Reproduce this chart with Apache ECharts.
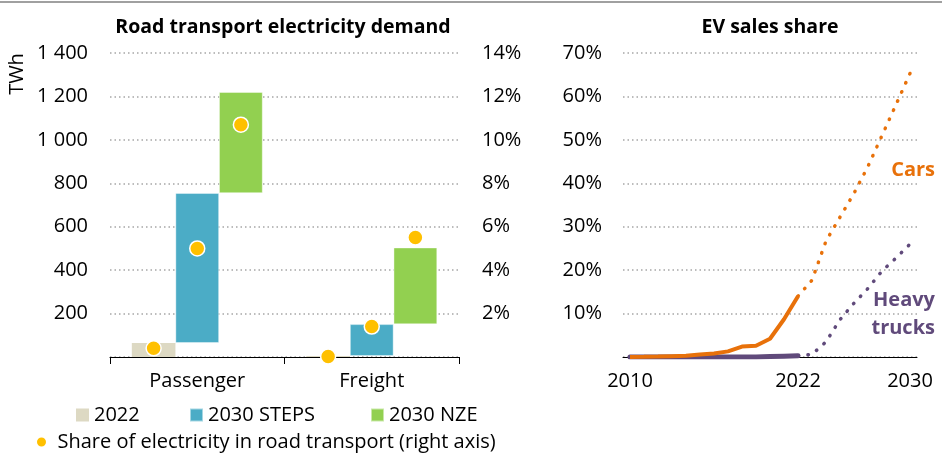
<!DOCTYPE html>
<html>
<head>
<meta charset="utf-8">
<script src="https://cdn.jsdelivr.net/npm/echarts@6/dist/echarts.min.js"></script>
<style>
  html, body { margin: 0; padding: 0; background: #fff; }
  #chart { width: 942px; height: 455px; }
</style>
</head>
<body>
<div id="chart"></div>
<script>
// Road transport electricity demand (TWh) by segment and scenario
const segments = ['Passenger', 'Freight'];
const demand2022 = [65, 5];
const demandSteps = [755, 151];
const demandNze = [1220, 504];

// Share of electricity in road transport (%), right axis
const share2022 = [0.4, 0.02];
const shareSteps = [5.0, 1.4];
const shareNze = [10.7, 5.5];

// EV sales share (%)
const years = ['2010', '2011', '2012', '2013', '2014', '2015', '2016', '2017', '2018', '2019', '2020',
               '2021', '2022', '2023', '2024', '2025', '2026', '2027', '2028', '2029', '2030'];
const yearLabels = ['2010', '2022', '2030'];
const carsHistoric = [0.01, 0.05, 0.1, 0.2, 0.3, 0.6, 0.8, 1.3, 2.4, 2.6, 4.2, 8.7, 14];
const carsProjected = [14, 17.7, 26.7, 32.2, 37.7, 43.9, 51, 58.1, 65.3];
const trucksHistoric = [0, 0, 0, 0, 0, 0, 0, 0, 0, 0, 0.1, 0.2, 0.3];
const trucksProjected = [0.3, 0.6, 3.5, 8.6, 12.4, 15.8, 19.8, 22.8, 26];

const FONT = '"Open Sans"';
const FS = 20;
const INK = '#000000';
const GRID_GREY = '#A6A6A6';
const COLORS = {
  y2022: '#DDD9C3', steps: '#4BACC6', nze: '#92D050', share: '#FFC000',
  cars: '#E8710A', trucks: '#604A7B'
};
const SHARE_NAME = 'Share of electricity in road transport (right axis)';

// Left panel geometry
const leftGrid = { left: 110, right: 483, top: 53, bottom: 98 };
const leftWidth = 942 - leftGrid.left - leftGrid.right;
const barCategoryGap = 0.25;
const slotWidth = (leftWidth / segments.length) * (1 - barCategoryGap) / 3;

// Full historic + projected series over the year axis
const histLen = carsHistoric.length;
const pad = (arr, before, total) => {
  const out = [];
  for (let i = 0; i < before; i++) out.push('-');
  arr.forEach(v => out.push(v));
  while (out.length < total) out.push('-');
  return out;
};
const carsSolid = pad(carsHistoric, 0, years.length);
const carsDotted = pad(carsProjected, histLen - 1, years.length);
const trucksSolid = pad(trucksHistoric, 0, years.length);
const trucksDotted = pad(trucksProjected, histLen - 1, years.length);

const stepsDelta = demandSteps.map((v, i) => v - demand2022[i]);
const nzeDelta = demandNze.map((v, i) => v - demandSteps[i]);

const spaced = v => String(v).replace(/\B(?=(\d{3})+(?!\d))/g, ' ');
const labelStyle = { color: INK, fontFamily: FONT, fontSize: FS };
const dottedGrid = { show: true, lineStyle: { color: GRID_GREY, width: 1.5, type: [1.5, 3] } };
const legendText = { color: INK, fontFamily: FONT, fontSize: FS, lineHeight: 20 };

const barCommon = {
  type: 'bar', xAxisIndex: 0, yAxisIndex: 0,
  barGap: '0%', barCategoryGap: (barCategoryGap * 100) + '%'
};
const baseBar = Object.assign({}, barCommon, {
  itemStyle: { color: 'transparent' }, silent: true, emphasis: { disabled: true }
});
const shareScatter = (data, offset) => ({
  name: SHARE_NAME, type: 'scatter', xAxisIndex: 0, yAxisIndex: 1,
  data: data, symbolSize: 15, symbolOffset: [offset, 0], z: 5,
  itemStyle: { color: COLORS.share, borderColor: '#fff', borderWidth: 1.5, opacity: 1 }
});
const lineCommon = { type: 'line', xAxisIndex: 1, yAxisIndex: 2, symbol: 'none', connectNulls: false };
const barLegend = (name, left) => ({
  data: [name], left: left, top: 405, padding: 0, icon: 'rect', itemWidth: 13, itemHeight: 13,
  textStyle: legendText, selectedMode: false
});

const chart = echarts.init(document.getElementById('chart'), null, { renderer: 'canvas' });
chart.setOption({
  animation: false,
  backgroundColor: '#fff',
  textStyle: { fontFamily: FONT },
  grid: [
    leftGrid,
    { left: 623, right: 25, top: 53, bottom: 98 }
  ],
  xAxis: [
    {
      type: 'category', gridIndex: 0, data: segments,
      axisLine: { lineStyle: { color: INK, width: 1 } },
      axisTick: { show: true, length: 7, lineStyle: { color: INK } },
      axisLabel: Object.assign({ margin: 14 }, labelStyle)
    },
    {
      type: 'category', gridIndex: 1, data: years, boundaryGap: true,
      axisLine: { lineStyle: { color: INK, width: 1 } },
      axisTick: { show: false },
      axisLabel: Object.assign({
        margin: 14,
        interval: (idx, val) => yearLabels.indexOf(val) >= 0
      }, labelStyle)
    }
  ],
  yAxis: [
    {
      type: 'value', gridIndex: 0, min: 0, max: 1400, interval: 200,
      axisLine: { show: false }, axisTick: { show: false },
      axisLabel: Object.assign({ margin: 22, formatter: v => v === 0 ? '' : spaced(v) }, labelStyle),
      splitLine: dottedGrid
    },
    {
      type: 'value', gridIndex: 0, min: 0, max: 14, interval: 2, position: 'right',
      axisLine: { show: false }, axisTick: { show: false },
      axisLabel: Object.assign({ margin: 23, formatter: v => v === 0 ? '' : v + '%' }, labelStyle),
      splitLine: { show: false }
    },
    {
      type: 'value', gridIndex: 1, min: 0, max: 70, interval: 10,
      axisLine: { show: false }, axisTick: { show: false },
      axisLabel: Object.assign({ margin: 21, formatter: v => v === 0 ? '' : v + '%' }, labelStyle),
      splitLine: dottedGrid
    }
  ],
  legend: [
    barLegend('2022', 76),
    barLegend('2030 STEPS', 189),
    barLegend('2030 NZE', 370),
    {
      data: [SHARE_NAME], left: 35, top: 432, padding: 0, icon: 'circle', itemWidth: 22, itemHeight: 11,
      textStyle: legendText, selectedMode: false
    }
  ],
  series: [
    Object.assign({}, barCommon, { name: '2022', data: demand2022, itemStyle: { color: COLORS.y2022 } }),
    Object.assign({}, baseBar, { name: 'stepsBase', stack: 'steps', data: demand2022 }),
    Object.assign({}, barCommon, { name: '2030 STEPS', stack: 'steps', data: stepsDelta,
      itemStyle: { color: COLORS.steps, borderColor: 'rgba(255,255,255,0.5)', borderWidth: 0.8 } }),
    Object.assign({}, baseBar, { name: 'nzeBase', stack: 'nze', data: demandSteps }),
    Object.assign({}, barCommon, { name: '2030 NZE', stack: 'nze', data: nzeDelta,
      itemStyle: { color: COLORS.nze, borderColor: 'rgba(255,255,255,0.5)', borderWidth: 0.8 } }),
    shareScatter(share2022, -slotWidth),
    shareScatter(shareSteps, 0),
    shareScatter(shareNze, slotWidth),
    Object.assign({}, lineCommon, { name: 'Cars', data: carsSolid, z: 4,
      lineStyle: { color: COLORS.cars, width: 4 } }),
    Object.assign({}, lineCommon, { name: 'Cars projected', data: carsDotted, z: 4,
      lineStyle: { color: COLORS.cars, width: 3.5, type: [0.5, 9.5], cap: 'round' } }),
    Object.assign({}, lineCommon, { name: 'Heavy trucks', data: trucksSolid, z: 3,
      lineStyle: { color: COLORS.trucks, width: 5, cap: 'round' } }),
    Object.assign({}, lineCommon, { name: 'Heavy trucks projected', data: trucksDotted, z: 3,
      lineStyle: { color: COLORS.trucks, width: 3.5, type: [0.5, 9.5], cap: 'round' } })
  ],
  graphic: [
    { type: 'rect', left: 0, top: 1, shape: { width: 942, height: 2 }, style: { fill: '#A0A0A0' }, silent: true },
    { type: 'text', x: 283, y: 27, style: { text: 'Road transport electricity demand', fill: INK,
      font: 'bold 19.5px ' + FONT, align: 'center', verticalAlign: 'middle' } },
    { type: 'text', x: 770, y: 27, style: { text: 'EV sales share', fill: INK,
      font: 'bold 19.5px ' + FONT, align: 'center', verticalAlign: 'middle' } },
    { type: 'text', x: 17, y: 74, rotation: Math.PI / 2, style: { text: 'TWh', fill: INK,
      font: FS + 'px ' + FONT, align: 'center', verticalAlign: 'middle' } },
    { type: 'text', x: 935, y: 170, style: { text: 'Cars', fill: COLORS.cars,
      font: 'bold 20px ' + FONT, align: 'right', verticalAlign: 'middle' } },
    { type: 'text', x: 935, y: 314, style: { text: 'Heavy\ntrucks', fill: COLORS.trucks,
      font: 'bold 20px ' + FONT, align: 'right', verticalAlign: 'middle', lineHeight: 28 } }
  ]
});
</script>
</body>
</html>
